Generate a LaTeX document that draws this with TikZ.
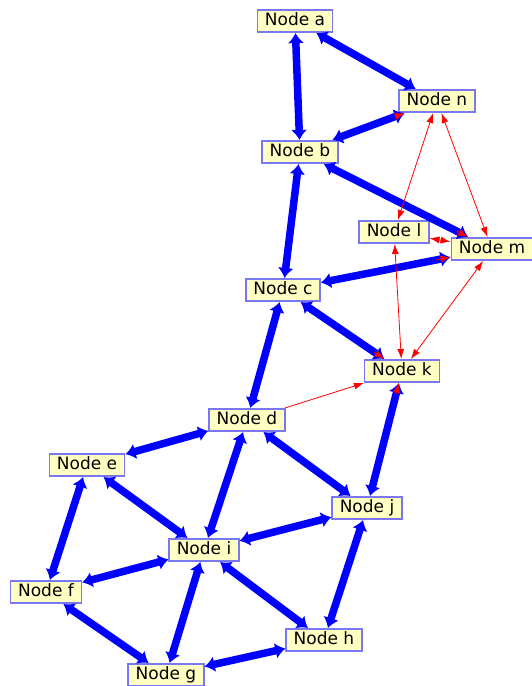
\documentclass[tikz,border=0pt]{standalone}
\usepackage{fontspec}
\usepackage{tkz-euclide}
\usetikzlibrary{arrows.meta}
\newfontfamily\nodefont{DejaVu Sans}
\definecolor{nodefill}{RGB}{255,255,195}
\definecolor{nodeline}{RGB}{120,120,245}

\tikzset{
  box/.style={draw=nodeline, fill=nodefill, line width=1.6pt,
    font=\nodefont\fontsize{17}{17}\selectfont, inner xsep=7.5pt,
    inner ysep=2pt, minimum height=22.5pt, text height=12.5pt, text depth=3.5pt},
  bluelink/.style={draw=blue, line width=7.5pt,
    {Latex[length=10pt,width=16pt]}-{Latex[length=10pt,width=16pt]}},
  redlink/.style={draw=red, line width=0.8pt, -{Latex[length=10pt,width=7pt]}},
  redboth/.style={redlink, {Latex[length=10pt,width=7pt]}-{Latex[length=10pt,width=7pt]}}
}

\begin{document}
\begin{tikzpicture}[x=1pt,y=-1pt]
  \useasboundingbox (0,0) rectangle (531,686);
  \tkzDefPoints{295/21/A, 437/101/N, 300/152/B, 394/232/L, 492/249/M,
    283/290/C, 402/371/K, 247/420/D, 87/465/E, 367/508/J, 204/550/I,
    46/592/F, 324/640/H, 166/675/G}
  \node[box] (a) at (A) {Node a};
  \node[box] (n) at (N) {Node n};
  \node[box] (b) at (B) {Node b};
  \node[box] (l) at (L) {Node l};
  \node[box] (m) at (M) {Node m};
  \node[box] (c) at (C) {Node c};
  \node[box] (k) at (K) {Node k};
  \node[box] (d) at (D) {Node d};
  \node[box] (e) at (E) {Node e};
  \node[box] (j) at (J) {Node j};
  \node[box] (i) at (I) {Node i};
  \node[box] (f) at (F) {Node f};
  \node[box] (h) at (H) {Node h};
  \node[box] (g) at (G) {Node g};
  % thick links
  \draw[bluelink] (a) -- (b); \draw[bluelink] (a) -- (n); \draw[bluelink] (n) -- (b);
  \draw[bluelink] (b) -- (c); \draw[bluelink] (b) -- (m); \draw[bluelink] (c) -- (m);
  \draw[bluelink] (c) -- (k); \draw[bluelink] (c) -- (d); \draw[bluelink] (k) -- (j);
  \draw[bluelink] (d) -- (e); \draw[bluelink] (d) -- (i); \draw[bluelink] (d) -- (j);
  \draw[bluelink] (e) -- (i); \draw[bluelink] (e) -- (f); \draw[bluelink] (j) -- (i);
  \draw[bluelink] (i) -- (f); \draw[bluelink] (i) -- (g); \draw[bluelink] (i) -- (h);
  \draw[bluelink] (f) -- (g); \draw[bluelink] (g) -- (h); \draw[bluelink] (j) -- (h);
  % thin links
  \draw[redlink,shorten <=70pt] (b) -- (n);
  \draw[redlink,shorten <=149pt] (b) -- (m);
  \draw[redlink,shorten <=117pt] (c) -- (m);
  \draw[redlink,shorten <=89pt] (c) -- (k);
  \draw[redlink,shorten <=105pt] (j) -- (k);
  \draw[redboth] (l) -- (n); \draw[redboth] (m) -- (n);
  \draw[redboth] (l) -- (m); \draw[redboth] (l) -- (k);
  \draw[redboth] (m) -- (k); \draw[redlink] (d) -- (k);
\end{tikzpicture}
\end{document}
